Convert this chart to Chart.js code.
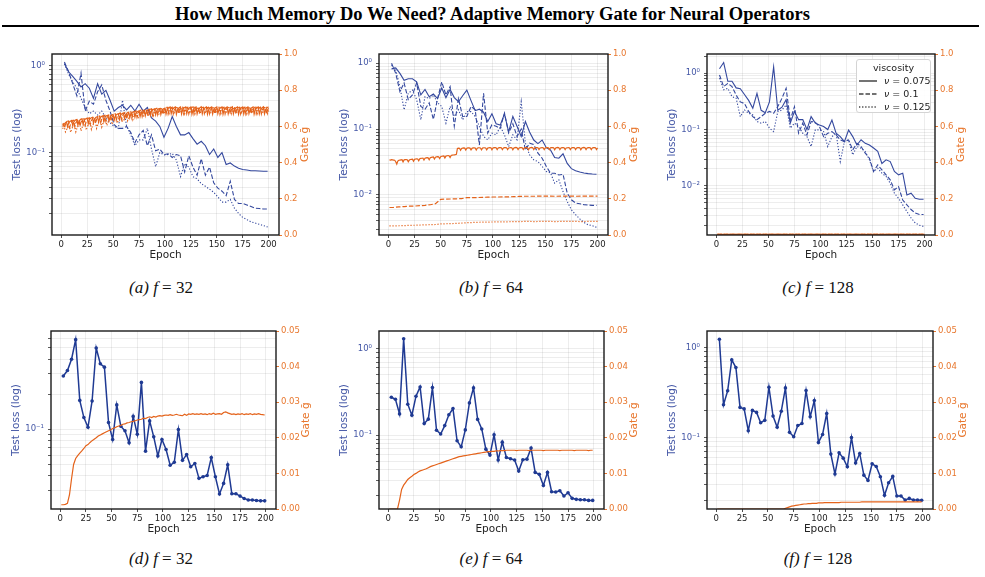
<!DOCTYPE html>
<html>
<head>
<meta charset="utf-8">
<script src="https://cdn.jsdelivr.net/npm/chart.js@4.4.1/dist/chart.umd.min.js"></script>
<style>
  html, body { margin: 0; padding: 0; background: #fff; }
  #fig { position: relative; width: 985px; height: 577px; overflow: hidden; font-family: 'DejaVu Sans', sans-serif; }
  .title { position: absolute; left: 0; top: 4px; width: 985px; text-align: center; font: bold 18.5px 'Liberation Serif', serif; color: #000; }
  .rule { position: absolute; left: 2px; top: 25px; width: 977px; height: 2px; background: #000; }
  canvas { position: absolute; }
  .cap { position: absolute; width: 200px; margin-left: -100px; text-align: center; font: 17px 'Liberation Serif', serif; color: #111; }
  .legend { position: absolute; left: 856px; top: 59px; width: 75px; height: 54px; box-sizing: border-box;
            border: 1px solid #d4d4d4; border-radius: 3px; background: rgba(255,255,255,0.9); font-size: 9.5px; color: #222;
            white-space: nowrap; }
  .legend .lt { text-align: center; margin-top: 2px; line-height: 12px; }
  .legend .lr { display: flex; align-items: center; height: 13px; padding-left: 2px; }
  .legend svg { margin-right: 7px; flex: none; }
  .legend span { flex: none; }
</style>
</head>
<body>
<div id="fig">
  <div class="title">How Much Memory Do We Need? Adaptive Memory Gate for Neural Operators</div>
  <div class="rule"></div>

  <canvas id="cA" width="327" height="225" style="left:2px;top:44px"></canvas>
  <canvas id="cB" width="329" height="225" style="left:329px;top:44px"></canvas>
  <canvas id="cC" width="328" height="225" style="left:657px;top:44px"></canvas>
  <canvas id="cD" width="325" height="222" style="left:1px;top:321px"></canvas>
  <canvas id="cE" width="325" height="222" style="left:329px;top:321px"></canvas>
  <canvas id="cF" width="326" height="222" style="left:657px;top:321px"></canvas>

  <div class="cap" style="left:161px;top:278px"><i>(a)</i> <i>f</i> = 32</div>
  <div class="cap" style="left:491px;top:278px"><i>(b)</i> <i>f</i> = 64</div>
  <div class="cap" style="left:818px;top:278px"><i>(c)</i> <i>f</i> = 128</div>
  <div class="cap" style="left:161px;top:549px"><i>(d)</i> <i>f</i> = 32</div>
  <div class="cap" style="left:491px;top:549px"><i>(e)</i> <i>f</i> = 64</div>
  <div class="cap" style="left:818px;top:549px"><i>(f)</i> <i>f</i> = 128</div>

  <div class="legend">
    <div class="lt">viscosity</div>
    <div class="lr"><svg width="18" height="6"><line x1="0" y1="3" x2="18" y2="3" stroke="#444" stroke-width="1.5"/></svg><span><i>ν</i> = 0.075</span></div>
    <div class="lr"><svg width="18" height="6"><line x1="0" y1="3" x2="18" y2="3" stroke="#444" stroke-width="1.5" stroke-dasharray="4.5 2"/></svg><span><i>ν</i> = 0.1</span></div>
    <div class="lr"><svg width="18" height="6"><line x1="0" y1="3" x2="18" y2="3" stroke="#444" stroke-width="1.5" stroke-dasharray="1.3 1.8"/></svg><span><i>ν</i> = 0.125</span></div>
  </div>
</div>

<script>
// ---------- data ----------
const lossEpochs = [3,7,11,15,19,23,27,31,35,39,43,47,51,55,59,63,67,71,75,79,83,87,91,95,99,
  103,107,111,115,119,123,127,131,135,139,143,147,151,155,159,163,167,171,175,179,183,187,191,195,199];
const xTicks = [0, 25, 50, 75, 100, 125, 150, 175, 200];
const gateTicksTop = [0, 0.2, 0.4, 0.6, 0.8, 1.0];
const gateTicksBottom = [0, 0.01, 0.02, 0.03, 0.04, 0.05];

// gate logged every epoch / every other epoch (epoch index only)
const gateEpochs = Array.from({ length: 200 }, (_, i) => i + 1);
const gateEpochsHalf = Array.from({ length: 100 }, (_, i) => 2 * i + 1);
const gateEpochsSparse = [1,5,10,15,20,25,30,35,40,45,50,55,60,65,70,75,80,85,90,95,100,
  105,110,115,120,125,130,135,140,145,150,155,160,165,170,175,180,185,190,195,200];
const flatEpochs = [1, 200];

// (a) f = 32
const lossA075 = [1.05,0.85,0.75,0.66,0.57,0.62,0.55,0.42,0.62,0.47,0.52,0.40,0.30,0.33,0.35,0.31,0.35,0.30,0.36,0.30,
  0.33,0.25,0.23,0.20,0.15,0.19,0.26,0.20,0.16,0.16,0.17,0.145,0.125,0.135,0.12,0.095,0.11,0.088,0.10,0.073,
  0.076,0.070,0.066,0.064,0.063,0.062,0.062,0.0615,0.061,0.061];
const lossA100 = [1.1,0.85,0.62,0.45,0.82,0.30,0.39,0.36,0.50,0.60,0.40,0.30,0.21,0.19,0.19,0.20,0.17,0.13,0.16,0.18,
  0.12,0.16,0.105,0.11,0.095,0.097,0.088,0.095,0.092,0.060,0.092,0.068,0.055,0.085,0.055,0.068,0.045,0.039,0.036,0.032,
  0.047,0.029,0.026,0.026,0.025,0.024,0.023,0.0228,0.0225,0.0225];
const lossA125 = [1.05,0.80,0.65,0.55,0.42,0.33,0.28,0.30,0.27,0.30,0.25,0.22,0.20,0.19,0.40,0.20,0.16,0.12,0.14,0.14,
  0.19,0.11,0.069,0.10,0.094,0.095,0.098,0.082,0.053,0.075,0.068,0.053,0.050,0.044,0.041,0.038,0.035,0.031,0.027,0.027,
  0.029,0.023,0.020,0.018,0.017,0.016,0.0155,0.015,0.0145,0.014];
const gateA075 = [
  0.600,0.606,0.614,0.620,0.625,0.598,0.618,0.626,0.630,0.633,
  0.603,0.624,0.632,0.636,0.638,0.607,0.628,0.636,0.640,0.642,
  0.611,0.632,0.640,0.644,0.646,0.615,0.636,0.644,0.648,0.650,
  0.619,0.640,0.648,0.652,0.654,0.623,0.644,0.652,0.656,0.658,
  0.627,0.648,0.656,0.660,0.662,0.631,0.652,0.660,0.664,0.666,
  0.635,0.656,0.664,0.668,0.670,0.639,0.660,0.668,0.672,0.674,
  0.643,0.664,0.672,0.676,0.678,0.647,0.668,0.676,0.680,0.682,
  0.651,0.672,0.680,0.684,0.686,0.655,0.676,0.684,0.688,0.690,
  0.659,0.680,0.688,0.692,0.694,0.662,0.683,0.691,0.695,0.697,
  0.664,0.685,0.693,0.697,0.699,0.666,0.687,0.695,0.699,0.701,
  0.668,0.690,0.699,0.704,0.707,0.670,0.691,0.700,0.705,0.708,
  0.668,0.690,0.699,0.704,0.707,0.669,0.691,0.700,0.704,0.707,
  0.670,0.691,0.700,0.705,0.708,0.668,0.690,0.699,0.704,0.707,
  0.669,0.690,0.700,0.704,0.708,0.670,0.691,0.700,0.705,0.708,
  0.668,0.690,0.699,0.704,0.707,0.669,0.691,0.700,0.704,0.707,
  0.670,0.691,0.700,0.705,0.708,0.668,0.690,0.699,0.704,0.707,
  0.669,0.690,0.700,0.704,0.708,0.670,0.691,0.700,0.705,0.708,
  0.668,0.690,0.699,0.704,0.707,0.669,0.691,0.700,0.704,0.707,
  0.670,0.691,0.700,0.705,0.708,0.668,0.690,0.699,0.704,0.707,
  0.669,0.690,0.700,0.704,0.708,0.670,0.691,0.700,0.705,0.707];
const gateA100 = [
  0.610,0.614,0.590,0.612,0.620,0.628,0.630,0.595,0.616,0.624,
  0.632,0.634,0.599,0.620,0.628,0.636,0.638,0.603,0.624,0.632,
  0.640,0.642,0.607,0.628,0.636,0.645,0.647,0.612,0.633,0.641,
  0.650,0.652,0.617,0.638,0.646,0.655,0.657,0.622,0.643,0.651,
  0.660,0.662,0.627,0.648,0.656,0.664,0.666,0.631,0.652,0.660,
  0.668,0.670,0.635,0.656,0.664,0.672,0.674,0.639,0.660,0.668,
  0.676,0.678,0.643,0.664,0.672,0.680,0.682,0.647,0.668,0.676,
  0.684,0.686,0.651,0.672,0.680,0.688,0.690,0.655,0.676,0.684,
  0.692,0.694,0.659,0.680,0.688,0.695,0.697,0.662,0.683,0.691,
  0.698,0.700,0.665,0.686,0.694,0.700,0.702,0.667,0.688,0.696,
  0.704,0.706,0.670,0.692,0.700,0.703,0.706,0.669,0.691,0.700,
  0.704,0.707,0.671,0.692,0.700,0.703,0.706,0.670,0.691,0.699,
  0.704,0.706,0.670,0.692,0.700,0.704,0.707,0.669,0.691,0.700,
  0.703,0.706,0.670,0.692,0.700,0.704,0.706,0.671,0.692,0.700,
  0.704,0.706,0.670,0.691,0.700,0.703,0.707,0.670,0.691,0.700,
  0.704,0.706,0.669,0.692,0.700,0.704,0.706,0.670,0.692,0.700,
  0.703,0.706,0.670,0.691,0.699,0.704,0.707,0.671,0.692,0.700,
  0.704,0.706,0.670,0.692,0.700,0.703,0.706,0.669,0.691,0.700,
  0.704,0.707,0.670,0.692,0.700,0.704,0.706,0.670,0.691,0.700,
  0.703,0.706,0.670,0.692,0.700,0.704,0.706,0.670,0.691,0.700];
const gateA125 = [
  0.588,0.592,0.594,0.570,0.582,0.593,0.597,0.599,0.567,0.585,
  0.597,0.601,0.603,0.571,0.589,0.601,0.605,0.607,0.575,0.593,
  0.605,0.609,0.611,0.579,0.597,0.610,0.614,0.616,0.584,0.602,
  0.616,0.620,0.622,0.590,0.608,0.623,0.627,0.629,0.597,0.615,
  0.630,0.634,0.636,0.604,0.622,0.637,0.641,0.643,0.611,0.629,
  0.644,0.648,0.650,0.618,0.636,0.651,0.655,0.657,0.625,0.643,
  0.658,0.662,0.664,0.632,0.650,0.664,0.668,0.670,0.638,0.656,
  0.670,0.674,0.676,0.644,0.662,0.676,0.680,0.682,0.650,0.668,
  0.682,0.686,0.688,0.656,0.674,0.687,0.691,0.693,0.661,0.679,
  0.691,0.695,0.697,0.665,0.683,0.694,0.698,0.700,0.668,0.686,
  0.698,0.702,0.704,0.672,0.690,0.699,0.703,0.705,0.671,0.689,
  0.698,0.702,0.705,0.672,0.690,0.699,0.703,0.704,0.671,0.690,
  0.699,0.702,0.704,0.672,0.689,0.698,0.703,0.705,0.672,0.690,
  0.698,0.702,0.704,0.671,0.690,0.699,0.702,0.705,0.672,0.689,
  0.699,0.703,0.704,0.672,0.690,0.698,0.702,0.705,0.671,0.690,
  0.698,0.702,0.704,0.672,0.689,0.699,0.703,0.705,0.672,0.690,
  0.699,0.702,0.705,0.671,0.690,0.698,0.703,0.704,0.672,0.689,
  0.698,0.702,0.704,0.672,0.690,0.699,0.703,0.705,0.671,0.690,
  0.699,0.703,0.704,0.672,0.689,0.698,0.702,0.705,0.672,0.690,
  0.698,0.702,0.704,0.671,0.690,0.699,0.703,0.705,0.672,0.690];

// (b) f = 64
const lossB075 = [0.82,0.85,0.70,0.55,0.58,0.58,0.52,0.33,0.40,0.31,0.34,0.29,0.42,0.30,0.40,0.30,0.26,0.32,0.39,0.27,
  0.19,0.20,0.18,0.13,0.17,0.12,0.115,0.17,0.090,0.155,0.11,0.077,0.13,0.09,0.068,0.060,0.068,0.052,0.048,0.037,
  0.036,0.042,0.030,0.025,0.0232,0.0222,0.0215,0.021,0.0207,0.0205];
const lossB100 = [1.0,0.70,0.37,0.50,0.28,0.33,0.50,0.22,0.20,0.25,0.14,0.29,0.52,0.33,0.44,0.11,0.29,0.155,0.155,0.22,
  0.196,0.057,0.35,0.087,0.116,0.11,0.103,0.174,0.087,0.12,0.077,0.10,0.048,0.061,0.058,0.043,0.036,0.027,0.0213,0.0213,
  0.020,0.0205,0.0106,0.0084,0.0075,0.0073,0.0071,0.0070,0.0069,0.0069];
const lossB125 = [0.94,0.79,0.44,0.196,0.35,0.39,0.28,0.138,0.31,0.29,0.33,0.25,0.22,0.123,0.22,0.155,0.196,0.138,0.184,0.184,
  0.155,0.109,0.077,0.0685,0.0865,0.0815,0.109,0.0815,0.054,0.0815,0.0685,0.26,0.061,0.0405,0.034,0.032,0.027,0.0226,0.0215,0.015,
  0.0169,0.0112,0.0079,0.0059,0.005,0.0043,0.0038,0.0035,0.0034,0.0032];
const gateB075 = [
  0.415,0.414,0.416,0.415,0.414,0.413,0.405,0.392,0.408,0.413,
  0.414,0.415,0.416,0.404,0.415,0.416,0.417,0.416,0.405,0.414,
  0.417,0.418,0.419,0.408,0.418,0.420,0.421,0.420,0.410,0.421,
  0.423,0.424,0.425,0.414,0.424,0.426,0.427,0.426,0.416,0.427,
  0.429,0.430,0.431,0.420,0.430,0.432,0.433,0.432,0.422,0.433,
  0.435,0.436,0.437,0.426,0.436,0.438,0.439,0.438,0.428,0.439,
  0.441,0.442,0.443,0.444,0.446,0.478,0.480,0.479,0.468,0.478,
  0.480,0.481,0.480,0.469,0.479,0.481,0.481,0.480,0.470,0.479,
  0.481,0.482,0.481,0.470,0.480,0.482,0.482,0.481,0.471,0.480,
  0.482,0.482,0.481,0.471,0.480,0.482,0.483,0.482,0.471,0.481,
  0.483,0.483,0.482,0.472,0.481,0.483,0.483,0.482,0.472,0.481,
  0.483,0.483,0.482,0.472,0.481,0.482,0.483,0.482,0.471,0.481,
  0.483,0.484,0.482,0.472,0.481,0.483,0.483,0.482,0.472,0.482,
  0.483,0.483,0.482,0.471,0.481,0.483,0.484,0.482,0.472,0.481,
  0.483,0.483,0.482,0.472,0.481,0.482,0.483,0.482,0.472,0.481,
  0.483,0.483,0.482,0.472,0.482,0.483,0.483,0.482,0.471,0.481,
  0.483,0.484,0.482,0.472,0.481,0.483,0.483,0.482,0.472,0.481,
  0.482,0.483,0.482,0.472,0.481,0.483,0.483,0.482,0.472,0.481,
  0.483,0.483,0.482,0.471,0.481,0.483,0.484,0.482,0.472,0.481,
  0.483,0.483,0.482,0.472,0.481,0.483,0.483,0.482,0.472,0.481];
const gateB100 = [0.152,0.153,0.155,0.157,0.159,0.160,0.162,0.164,0.167,0.173,0.197,0.198,0.199,0.200,0.201,
  0.206,0.207,0.207,0.208,0.209,0.210,0.210,0.211,0.211,0.212,0.213,0.214,0.214,0.214,0.215,
  0.215,0.215,0.214,0.215,0.215,0.215,0.214,0.215,0.215,0.215,0.215];
const gateB125 = [0.050,0.050,0.051,0.052,0.053,0.054,0.055,0.056,0.057,0.058,0.061,0.062,0.063,0.064,0.066,
  0.068,0.069,0.070,0.071,0.071,0.072,0.072,0.073,0.073,0.074,0.074,0.075,0.075,0.074,0.075,
  0.075,0.075,0.074,0.075,0.075,0.075,0.075,0.074,0.075,0.075,0.075];

// (c) f = 128
const lossC075 = [1.2,1.55,0.72,0.72,0.55,0.53,0.42,0.33,0.24,0.44,0.22,0.20,0.31,1.3,0.22,0.25,0.34,0.13,0.21,0.15,
  0.15,0.10,0.17,0.13,0.12,0.113,0.10,0.148,0.086,0.075,0.061,0.098,0.075,0.053,0.066,0.057,0.053,0.047,0.041,0.025,
  0.029,0.027,0.018,0.0157,0.0168,0.0069,0.0074,0.006,0.0058,0.0058];
const lossC100 = [0.93,0.58,0.66,0.58,0.41,0.31,0.29,0.21,0.17,0.15,0.17,0.195,0.21,0.195,0.256,0.36,0.54,0.148,0.256,0.086,
  0.13,0.08,0.139,0.135,0.113,0.075,0.086,0.092,0.08,0.0656,0.0612,0.0656,0.0436,0.0572,0.050,0.038,0.031,0.018,0.0236,0.0192,
  0.0157,0.0128,0.0085,0.0097,0.0056,0.0046,0.0038,0.0033,0.0031,0.0031];
const lossC125 = [0.82,0.51,0.54,0.385,0.36,0.17,0.223,0.195,0.182,0.139,0.13,0.139,0.106,0.092,0.209,0.223,0.274,0.106,0.13,0.113,
  0.086,0.075,0.05,0.0986,0.0986,0.092,0.05,0.075,0.086,0.027,0.0612,0.0656,0.0355,0.05,0.0466,0.0407,0.029,0.018,0.0206,0.0168,
  0.0147,0.0111,0.0074,0.006,0.0046,0.0035,0.0027,0.0022,0.002,0.0019];
const gateC075 = [0.003, 0.003];
const gateC100 = [0.003, 0.003];
const gateC125 = [0.003, 0.003];

// (d) f = 32, single run
const lossD = [0.287,0.32,0.40,0.59,0.177,0.126,0.104,0.175,0.50,0.366,0.342,0.114,0.0816,0.162,0.106,0.097,0.0764,0.129,0.0906,0.253,
  0.0648,0.118,0.086,0.059,0.0816,0.0669,0.049,0.052,0.0993,0.054,0.0606,0.0476,0.0508,0.0378,0.039,0.040,0.057,0.039,0.0277,0.0342,
  0.0495,0.0279,0.0279,0.0266,0.0254,0.0246,0.0246,0.0244,0.0242,0.0242];
const gateD = [
  0.0012,0.0012,0.0013,0.0016,0.0040,0.0085,0.0125,0.0142,0.0150,0.0157,
  0.0163,0.0170,0.0178,0.0181,0.0187,0.0192,0.0196,0.0200,0.0205,0.0208,
  0.0211,0.0214,0.0217,0.0220,0.0222,0.0226,0.0228,0.0231,0.0233,0.0235,
  0.0238,0.0239,0.0242,0.0243,0.0245,0.0246,0.0248,0.0250,0.0251,0.0252,
  0.0255,0.0254,0.0257,0.0259,0.0257,0.0260,0.0258,0.0261,0.0262,0.0261,
  0.0263,0.0264,0.0263,0.0265,0.0263,0.0264,0.0266,0.0264,0.0263,0.0262,
  0.0266,0.0263,0.0267,0.0266,0.0268,0.0266,0.0267,0.0266,0.0268,0.0266,
  0.0267,0.0265,0.0268,0.0266,0.0269,0.0266,0.0267,0.0268,0.0266,0.0271,
  0.0273,0.0270,0.0268,0.0266,0.0267,0.0265,0.0267,0.0266,0.0268,0.0265,
  0.0267,0.0266,0.0268,0.0265,0.0267,0.0266,0.0268,0.0266,0.0265,0.0264];

// (e) f = 64
const lossE = [0.274,0.260,0.176,1.30,0.228,0.170,0.282,0.361,0.136,0.153,0.355,0.114,0.103,0.129,0.172,0.203,0.086,0.0733,0.115,0.236,
  0.352,0.152,0.118,0.0689,0.0588,0.101,0.0515,0.083,0.0552,0.0533,0.0515,0.0384,0.0519,0.0528,0.0708,0.0371,0.0352,0.0262,0.0371,0.0222,
  0.022,0.0228,0.0198,0.0216,0.0186,0.0181,0.0179,0.0179,0.0176,0.0176];
const gateE = [
  0,0,0,0,0,0.0025,0.0055,0.0067,0.0075,0.0083,
  0.0088,0.0092,0.0097,0.0100,0.0104,0.0107,0.0109,0.0111,0.0113,0.0116,
  0.0119,0.0121,0.0123,0.0125,0.0127,0.0129,0.0131,0.0133,0.0135,0.0137,
  0.0139,0.0141,0.0143,0.0145,0.0147,0.0148,0.0149,0.0150,0.0151,0.0152,
  0.0153,0.0154,0.0155,0.0156,0.0157,0.0158,0.0159,0.0160,0.0161,0.0161,
  0.0162,0.0162,0.0163,0.0163,0.0164,0.0164,0.0164,0.0165,0.0165,0.0165,
  0.0165,0.0165,0.0164,0.0165,0.0165,0.0165,0.0165,0.0165,0.0164,0.0165,
  0.0165,0.0165,0.0165,0.0165,0.0165,0.0164,0.0165,0.0165,0.0165,0.0165,
  0.0165,0.0165,0.0165,0.0164,0.0165,0.0165,0.0165,0.0165,0.0165,0.0165,
  0.0164,0.0165,0.0165,0.0165,0.0165,0.0165,0.0165,0.0164,0.0165,0.0165];

// (f) f = 128
const lossF = [1.24,0.231,0.330,0.730,0.600,0.216,0.208,0.119,0.200,0.190,0.146,0.155,0.362,0.173,0.130,0.196,0.356,0.114,0.102,0.136,
  0.143,0.333,0.170,0.258,0.088,0.108,0.185,0.0653,0.0392,0.0676,0.0589,0.0472,0.100,0.0519,0.0664,0.0381,0.0333,0.051,0.0476,0.0366,
  0.0227,0.0313,0.0369,0.0223,0.0223,0.0201,0.021,0.0201,0.0201,0.020];
const gateF = [
  0,0,0,0,0,0,0,0,0,0,
  0,0,0,0,0,0,0,0,0,0,
  0,0,0,0,0,0,0,0,0,0,
  0,0,0,0.0002,0.0004,0.0006,0.0008,0.0009,0.0010,0.0011,
  0.0012,0.0013,0.0014,0.0014,0.0015,0.0015,0.0016,0.0016,0.0016,0.0017,
  0.0017,0.0017,0.0018,0.0018,0.0018,0.0018,0.0018,0.0018,0.0018,0.0018,
  0.0019,0.0019,0.0019,0.0019,0.0019,0.0019,0.0019,0.0019,0.0019,0.0019,
  0.0020,0.0020,0.0020,0.0020,0.0020,0.0020,0.0020,0.0020,0.0020,0.0020,
  0.0020,0.0020,0.0020,0.0020,0.0020,0.0020,0.0020,0.0020,0.0020,0.0020,
  0.0020,0.0020,0.0020,0.0020,0.0020,0.0020,0.0020,0.0020,0.0020,0.0020];

// ---------- styling ----------
const BLUE = '#34489e';
const BLUE_DARK = '#1f3a93';
const BLUE_TXT = '#4457a6';
const ORANGE = '#e4631b';
const ORANGE_TXT = '#e8772e';
const GRID = 'rgba(0,0,0,0.09)';
const SOLID = [];
const DASHED = [4.5, 2];
const DOTTED = [1.2, 1.8];

Chart.defaults.font.family = "'DejaVu Sans', sans-serif";

const SUP = { '-': '⁻', '0': '⁰', '1': '¹', '2': '²', '3': '³' };

function series(xs, ys) {
  return ys.map((y, i) => ({ x: xs[i], y: y }));
}

// 1..9 x 10^n ticks inside the log range, labels only on powers of ten
function logTicks(min, max) {
  const out = [];
  for (let e = Math.floor(Math.log10(min)); e <= Math.ceil(Math.log10(max)); e++) {
    for (let k = 1; k < 10; k++) {
      const v = k * Math.pow(10, e);
      if (v >= min && v <= max) out.push({ value: v });
    }
  }
  return out;
}

function powLabel(v) {
  const e = Math.round(Math.log10(v));
  if (Math.abs(v / Math.pow(10, e) - 1) > 1e-6) return '';
  return '10' + String(e).split('').map(c => SUP[c]).join('');
}

// spines on top of the lines + right-hand axis title reading bottom-to-top
const framePlugin = {
  id: 'frame',
  afterDatasetsDraw(chart) {
    const { ctx, chartArea: a } = chart;
    ctx.save();
    ctx.strokeStyle = '#1a1a1a';
    ctx.lineWidth = 1.4;
    ctx.strokeRect(a.left, a.top, a.right - a.left, a.bottom - a.top);
    ctx.restore();
  },
  afterDraw(chart, args, opts) {
    const { ctx, chartArea: a } = chart;
    ctx.save();
    ctx.translate(a.right + opts.offset, (a.top + a.bottom) / 2);
    ctx.rotate(-Math.PI / 2);
    ctx.fillStyle = ORANGE_TXT;
    ctx.font = "10.5px 'DejaVu Sans'";
    ctx.textAlign = 'center';
    ctx.textBaseline = 'middle';
    ctx.fillText('Gate ḡ', 0, 0);
    ctx.restore();
  }
};

function panel(id, o) {
  const datasets = [];
  o.gates.forEach(g => datasets.push({
    data: series(g.x, g.y), yAxisID: 'g', borderColor: ORANGE, borderWidth: 1.2,
    borderDash: g.dash, pointRadius: 0, tension: 0
  }));
  o.loss.forEach(l => datasets.push({
    data: series(lossEpochs, l.y), yAxisID: 'y',
    borderColor: o.markers ? BLUE_DARK : BLUE, borderWidth: o.markers ? 1.5 : 1.1,
    borderDash: l.dash, pointRadius: o.markers ? 1.8 : 0, pointBackgroundColor: BLUE_DARK,
    pointBorderWidth: 0, tension: 0
  }));

  new Chart(document.getElementById(id), {
    type: 'line',
    data: { datasets },
    options: {
      responsive: false,
      animation: false,
      events: [],
      layout: { padding: { top: 10, left: 0, right: 0, bottom: 0 } },
      plugins: {
        legend: { display: false },
        tooltip: { enabled: false },
        frame: { offset: o.titleOffset }
      },
      scales: {
        x: {
          type: 'linear', min: -9, max: 210,
          afterBuildTicks: s => { s.ticks = xTicks.map(v => ({ value: v })); },
          afterFit: s => { s.height = 34; },
          ticks: { color: '#222', font: { size: 8.5 }, padding: 2, maxRotation: 0, autoSkip: false, callback: v => String(v) },
          grid: { color: GRID, lineWidth: 0.8, tickColor: '#222', tickLength: 3 },
          border: { display: false },
          title: { display: true, text: 'Epoch', color: '#222', font: { size: 10.5 }, padding: { top: 0, bottom: 7 } }
        },
        y: {
          type: 'logarithmic', position: 'left', min: o.yMin, max: o.yMax,
          afterBuildTicks: s => { s.ticks = logTicks(o.yMin, o.yMax); },
          afterFit: s => { s.width = 50; },
          ticks: { color: BLUE_TXT, font: { size: 8.5 }, padding: 4, autoSkip: false, callback: v => powLabel(v) },
          grid: { color: GRID, lineWidth: 0.8, tickColor: '#333', tickLength: 3 },
          border: { display: false },
          title: { display: true, text: 'Test loss (log)', color: BLUE_TXT, font: { size: 10.5 }, padding: { top: 9, bottom: 0 } }
        },
        g: {
          type: 'linear', position: 'right', min: 0, max: o.gMax,
          afterBuildTicks: s => { s.ticks = o.gTicks.map(v => ({ value: v })); },
          afterFit: s => { s.width = 50; },
          ticks: { color: ORANGE_TXT, font: { size: 8.5 }, padding: 2, autoSkip: false, callback: v => v.toFixed(o.gDec) },
          grid: { drawOnChartArea: false, tickColor: ORANGE_TXT, tickLength: 3 },
          border: { display: false }
        }
      }
    },
    plugins: [framePlugin]
  });
}

panel('cA', {
  yMin: 0.0113, yMax: 1.36, gMax: 1.0, gTicks: gateTicksTop, gDec: 1, titleOffset: 26, markers: false,
  loss: [{ y: lossA075, dash: SOLID }, { y: lossA100, dash: DASHED }, { y: lossA125, dash: DOTTED }],
  gates: [{ x: gateEpochs, y: gateA075, dash: SOLID }, { x: gateEpochs, y: gateA100, dash: DASHED }, { x: gateEpochs, y: gateA125, dash: DOTTED }]
});
panel('cB', {
  yMin: 0.00245, yMax: 1.38, gMax: 1.0, gTicks: gateTicksTop, gDec: 1, titleOffset: 26, markers: false,
  loss: [{ y: lossB075, dash: SOLID }, { y: lossB100, dash: DASHED }, { y: lossB125, dash: DOTTED }],
  gates: [{ x: gateEpochs, y: gateB075, dash: SOLID }, { x: gateEpochsSparse, y: gateB100, dash: DASHED }, { x: gateEpochsSparse, y: gateB125, dash: DOTTED }]
});
panel('cC', {
  yMin: 0.00134, yMax: 2.2, gMax: 1.0, gTicks: gateTicksTop, gDec: 1, titleOffset: 26, markers: false,
  loss: [{ y: lossC075, dash: SOLID }, { y: lossC100, dash: DASHED }, { y: lossC125, dash: DOTTED }],
  gates: [{ x: flatEpochs, y: gateC075, dash: SOLID }, { x: flatEpochs, y: gateC100, dash: DASHED }, { x: flatEpochs, y: gateC125, dash: DOTTED }]
});
panel('cD', {
  yMin: 0.0206, yMax: 0.70, gMax: 0.05, gTicks: gateTicksBottom, gDec: 2, titleOffset: 30, markers: true,
  loss: [{ y: lossD, dash: SOLID }],
  gates: [{ x: gateEpochsHalf, y: gateD, dash: SOLID }]
});
panel('cE', {
  yMin: 0.014, yMax: 1.6, gMax: 0.05, gTicks: gateTicksBottom, gDec: 2, titleOffset: 30, markers: true,
  loss: [{ y: lossE, dash: SOLID }],
  gates: [{ x: gateEpochsHalf, y: gateE, dash: SOLID }]
});
panel('cF', {
  yMin: 0.016, yMax: 1.53, gMax: 0.05, gTicks: gateTicksBottom, gDec: 2, titleOffset: 30, markers: true,
  loss: [{ y: lossF, dash: SOLID }],
  gates: [{ x: gateEpochsHalf, y: gateF, dash: SOLID }]
});
</script>
</body>
</html>
